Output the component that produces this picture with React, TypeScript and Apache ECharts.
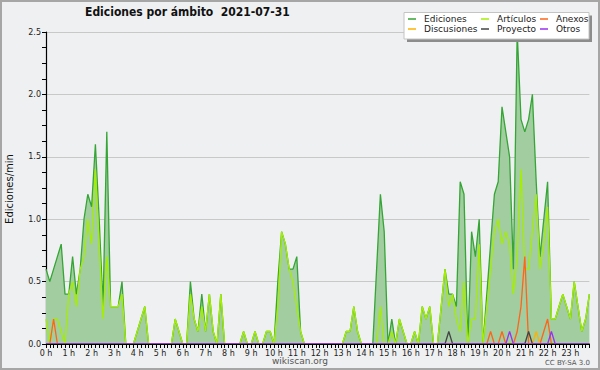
import React, { useEffect, useRef } from 'react';
import * as echarts from 'echarts';

const HOURS = ['0 h', '1 h', '2 h', '3 h', '4 h', '5 h', '6 h', '7 h', '8 h', '9 h', '10 h', '11 h',
  '12 h', '13 h', '14 h', '15 h', '16 h', '17 h', '18 h', '19 h', '20 h', '21 h', '22 h', '23 h'];
const MINUTES = ['00', '10', '20', '30', '40', '50'];
const Y_TICKS = [0, 0.5, 1.0, 1.5, 2.0, 2.5];

const EDICIONES = [
  0.6, 0.5, 0.6, 0.7, 0.8, 0.4, 0.4, 0.7, 0.4, 0.6, 1.0, 1.2,
  1.1, 1.6, 1.0, 0.3, 1.7, 0.3, 0.3, 0.3, 0.5, 0, 0, 0,
  0.1, 0.2, 0.3, 0, 0, 0, 0, 0, 0, 0, 0.2, 0.1,
  0, 0, 0.5, 0.2, 0.1, 0.4, 0.1, 0.4, 0.1, 0, 0.4, 0,
  0, 0, 0, 0, 0.1, 0, 0, 0.1, 0, 0, 0.1, 0.1,
  0, 0.5, 0.9, 0.8, 0.6, 0.6, 0.7, 0.1, 0, 0, 0, 0,
  0, 0, 0, 0, 0, 0, 0, 0.1, 0.1, 0.3, 0.1, 0,
  0, 0, 0, 0.6, 1.2, 0.9, 0, 0.2, 0, 0.2, 0.1, 0,
  0, 0.1, 0, 0.3, 0.2, 0.3, 0, 0, 0.3, 0.6, 0.4, 0.4,
  0.3, 1.3, 1.2, 0, 0.9, 0.7, 1.0, 0, 0.4, 0.8, 1.2, 1.3,
  1.9, 1.7, 1.5, 0.6, 2.5, 1.8, 1.7, 1.8, 2.0, 1.3, 0.7, 1.0,
  1.3, 0.2, 0.2, 0.3, 0.4, 0.3, 0.2, 0.5, 0.3, 0.1, 0.2, 0.4,
];

const ARTICULOS = [
  0.2, 0, 0.2, 0.2, 0.1, 0, 0.4, 0.5, 0.3, 0.6, 0.7, 1.0,
  0.8, 1.4, 0.8, 0.2, 0.7, 0.3, 0.3, 0.3, 0.4, 0, 0, 0,
  0.1, 0.2, 0.3, 0, 0, 0, 0, 0, 0, 0, 0.2, 0.1,
  0, 0, 0.4, 0.2, 0.1, 0.3, 0.1, 0.4, 0.1, 0, 0.4, 0,
  0, 0, 0, 0, 0.1, 0, 0, 0.1, 0, 0, 0.1, 0.1,
  0, 0.3, 0.9, 0.8, 0.6, 0.5, 0.3, 0.1, 0, 0, 0, 0,
  0, 0, 0, 0, 0, 0, 0, 0.1, 0.1, 0.3, 0.1, 0,
  0, 0, 0, 0, 0.3, 0, 0, 0.1, 0, 0.2, 0.1, 0,
  0, 0.1, 0, 0.3, 0.2, 0.3, 0, 0, 0.3, 0.6, 0.3, 0.4,
  0.2, 0.1, 0.5, 0, 0.2, 0.2, 0.8, 0, 0.3, 0.6, 0.9, 1.0,
  0.8, 0.9, 0.8, 0.4, 0.7, 1.4, 0.6, 0.6, 0.9, 1.2, 0.6, 0.8,
  1.1, 0.2, 0.2, 0.3, 0.4, 0.3, 0.2, 0.5, 0.3, 0.1, 0.2, 0.4,
];

const ANEXOS = [
  0, 0, 0.2, 0, 0, 0, 0, 0, 0, 0, 0, 0,
  0, 0, 0, 0, 0, 0, 0, 0, 0, 0, 0, 0,
  0, 0, 0, 0, 0, 0, 0, 0, 0, 0, 0, 0,
  0, 0, 0, 0, 0, 0, 0, 0, 0, 0, 0, 0,
  0, 0, 0, 0, 0, 0, 0, 0, 0, 0, 0, 0,
  0, 0, 0, 0, 0, 0, 0, 0, 0, 0, 0, 0,
  0, 0, 0, 0, 0, 0, 0, 0, 0, 0, 0, 0,
  0, 0, 0, 0, 0, 0, 0, 0, 0, 0, 0, 0,
  0, 0, 0, 0, 0, 0, 0, 0, 0, 0, 0, 0,
  0, 0, 0, 0, 0, 0, 0, 0, 0, 0.1, 0, 0,
  0.1, 0, 0, 0, 0.1, 0.3, 0.7, 0, 0, 0, 0, 0.1,
  0.2, 0, 0, 0, 0, 0, 0, 0, 0, 0, 0, 0,
];

const DISCUSIONES = [
  0, 0, 0, 0, 0, 0, 0, 0, 0, 0, 0, 0,
  0, 0, 0, 0, 0, 0, 0, 0, 0, 0, 0, 0,
  0, 0, 0, 0, 0, 0, 0, 0, 0, 0, 0, 0,
  0, 0, 0, 0, 0, 0, 0, 0, 0, 0, 0, 0,
  0, 0, 0, 0, 0, 0, 0, 0, 0, 0, 0, 0,
  0, 0, 0, 0, 0, 0, 0, 0, 0, 0, 0, 0,
  0, 0, 0, 0, 0, 0, 0, 0, 0, 0, 0, 0,
  0, 0, 0, 0, 0, 0, 0, 0, 0, 0, 0, 0,
  0, 0, 0, 0, 0, 0, 0, 0, 0, 0, 0, 0,
  0, 0, 0, 0, 0, 0, 0, 0, 0, 0, 0, 0,
  0, 0, 0, 0, 0, 0, 0, 0, 0, 0.1, 0, 0,
  0, 0, 0, 0, 0, 0, 0, 0, 0, 0, 0, 0,
];

const PROYECTO = [
  0, 0, 0, 0, 0, 0, 0, 0, 0, 0, 0, 0,
  0, 0, 0, 0, 0, 0, 0, 0, 0, 0, 0, 0,
  0, 0, 0, 0, 0, 0, 0, 0, 0, 0, 0, 0,
  0, 0, 0, 0, 0, 0, 0, 0, 0, 0, 0, 0,
  0, 0, 0, 0, 0, 0, 0, 0, 0, 0, 0, 0,
  0, 0, 0, 0, 0, 0, 0, 0, 0, 0, 0, 0,
  0, 0, 0, 0, 0, 0, 0, 0, 0, 0, 0, 0,
  0, 0, 0, 0, 0, 0, 0, 0, 0, 0, 0, 0,
  0, 0, 0, 0, 0, 0, 0, 0, 0, 0, 0.1, 0,
  0, 0, 0, 0, 0, 0, 0, 0, 0, 0, 0, 0,
  0, 0, 0, 0, 0, 0, 0, 0.1, 0, 0, 0, 0,
  0, 0, 0, 0, 0, 0, 0, 0, 0, 0, 0, 0,
];

const OTROS = [
  0, 0, 0, 0, 0, 0, 0, 0, 0, 0, 0, 0,
  0, 0, 0, 0, 0, 0, 0, 0, 0, 0, 0, 0,
  0, 0, 0, 0, 0, 0, 0, 0, 0, 0, 0, 0,
  0, 0, 0, 0, 0, 0, 0, 0, 0, 0, 0, 0,
  0, 0, 0, 0, 0, 0, 0, 0, 0, 0, 0, 0,
  0, 0, 0, 0, 0, 0, 0, 0, 0, 0, 0, 0,
  0, 0, 0, 0, 0, 0, 0, 0, 0, 0, 0, 0,
  0, 0, 0, 0, 0, 0, 0, 0, 0, 0, 0, 0,
  0, 0, 0, 0, 0, 0, 0, 0, 0, 0, 0, 0,
  0, 0, 0, 0, 0, 0, 0, 0, 0, 0, 0, 0,
  0, 0, 0.1, 0, 0, 0, 0, 0, 0, 0, 0, 0,
  0, 0.1, 0, 0, 0, 0, 0, 0, 0, 0, 0, 0,
];

const FONT = "'DejaVu Sans', 'Noto Sans', sans-serif";

export default function App() {
  const ref = useRef<HTMLDivElement>(null);

  useEffect(() => {
    if (!ref.current) return;
    const chart = echarts.init(ref.current, null, { renderer: 'svg' });
    const categories: string[] = [];
    HOURS.forEach((_, hi) => MINUTES.forEach((m) => categories.push(`${hi}:${m}`)));

    const lineSeries = (name: string, data: number[], color: string, extra: any = {}) => ({
      name,
      type: 'line',
      data,
      symbol: 'none',
      silent: true,
      lineStyle: { color, width: 1.3 },
      itemStyle: { color },
      ...extra,
    });

    const legendCommon = {
      orient: 'vertical',
      top: 14,
      padding: 0,
      itemGap: 0,
      itemWidth: 8,
      itemHeight: 1.5,
      icon: 'rect',
      selectedMode: false,
      z: 10,
      textStyle: { fontFamily: FONT, fontSize: 9, color: '#222', lineHeight: 10, padding: [0, 0, 0, 3] },
    };

    chart.setOption({
      animation: false,
      backgroundColor: '#eff0f1',
      title: {
        text: 'Ediciones por ámbito  2021-07-31',
        left: 85,
        top: 6,
        padding: 0,
        textStyle: {
          fontFamily: "'DejaVu Sans Condensed', 'DejaVu Sans', sans-serif",
          fontSize: 12,
          fontWeight: 'bold',
          color: '#111',
        },
      },
      legend: [
        { ...legendCommon, left: 408, data: ['Ediciones', 'Discusiones'] },
        { ...legendCommon, left: 481, data: ['Artículos', 'Proyecto'] },
        { ...legendCommon, left: 540, data: ['Anexos', 'Otros'] },
      ],
      grid: { left: 46, top: 32, width: 543.4, height: 312 },
      xAxis: {
        type: 'category',
        data: categories,
        boundaryGap: false,
        z: 10,
        axisLine: { lineStyle: { color: '#000', width: 1.2 } },
        axisTick: { interval: 0, length: 4, lineStyle: { color: '#000' } },
        axisLabel: {
          interval: (idx: number) => idx % 6 === 0,
          formatter: (_v: string, idx: number) => HOURS[Math.floor(idx / 6)],
          fontFamily: FONT,
          fontSize: 8,
          color: '#222',
          margin: 5,
        },
        splitLine: { show: false },
      },
      yAxis: {
        type: 'value',
        min: Y_TICKS[0],
        max: Y_TICKS[Y_TICKS.length - 1],
        interval: 0.5,
        axisLine: { show: true, lineStyle: { color: '#000', width: 1.2 } },
        axisTick: { show: true, length: 4, lineStyle: { color: '#000' } },
        minorTick: { show: true, splitNumber: 4, length: 4, lineStyle: { color: '#000' } },
        axisLabel: {
          formatter: (v: number) => v.toFixed(1),
          fontFamily: FONT,
          fontSize: 8,
          color: '#222',
          margin: 5,
        },
        splitLine: { show: true, lineStyle: { color: '#c8c8c8', width: 1 } },
      },
      graphic: [
        {
          type: 'rect',
          z: 8,
          shape: { x: 407, y: 15.5, width: 185, height: 26.5 },
          style: { fill: '#8c8c8c' },
        },
        {
          type: 'rect',
          z: 9,
          shape: { x: 404, y: 12.5, width: 185, height: 26.5 },
          style: { fill: '#ffffff', stroke: '#c4c4c4', lineWidth: 1 },
        },
        {
          type: 'text',
          x: 9,
          y: 189,
          rotation: Math.PI / 2,
          style: {
            text: 'Ediciones/min',
            font: `10px ${FONT}`,
            fill: '#111',
            textAlign: 'center',
            textVerticalAlign: 'middle',
          },
        },
        {
          type: 'text',
          x: 300,
          y: 361,
          style: {
            text: 'wikiscan.org',
            font: `9px ${FONT}`,
            fill: '#555',
            textAlign: 'center',
            textVerticalAlign: 'middle',
          },
        },
        {
          type: 'text',
          x: 590,
          y: 363,
          style: {
            text: 'CC BY-SA 3.0',
            font: `7px ${FONT}`,
            fill: '#555',
            textAlign: 'right',
            textVerticalAlign: 'middle',
          },
        },
        {
          type: 'rect',
          z: 20,
          shape: { x: 1, y: 1, width: 598, height: 368 },
          style: { fill: 'none', stroke: '#a6a6a6', lineWidth: 2 },
        },
      ],
      series: [
        lineSeries('Ediciones', EDICIONES, '#35a535', {
          areaStyle: { color: '#a1cda1', opacity: 1 },
        }),
        lineSeries('Artículos', ARTICULOS, '#a6ee00'),
        lineSeries('Anexos', ANEXOS, '#ff6418'),
        lineSeries('Discusiones', DISCUSIONES, '#ffb000'),
        lineSeries('Proyecto', PROYECTO, '#444444'),
        lineSeries('Otros', OTROS, '#9a30f0'),
      ],
    });

    return () => chart.dispose();
  }, []);

  return <div ref={ref} style={{ position: 'fixed', left: 0, top: 0, width: 600, height: 370 }} />;
}
